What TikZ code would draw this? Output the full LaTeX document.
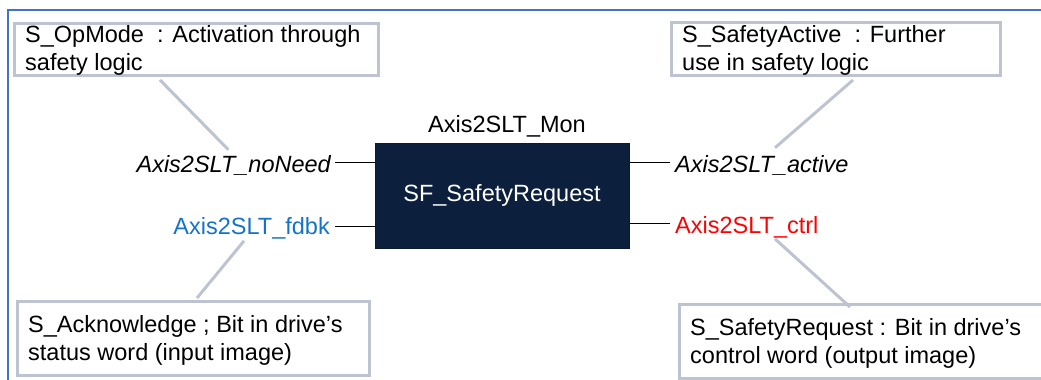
\documentclass[tikz,border=0pt]{standalone}
\usepackage{fontspec}
\setmainfont{Liberation Sans}
\usetikzlibrary{calc}
\definecolor{framblue}{RGB}{68,114,196}
\definecolor{boxgray}{RGB}{190,195,210}
\definecolor{navy}{RGB}{12,32,62}
\definecolor{sigblue}{RGB}{20,115,200}
\definecolor{sigred}{RGB}{255,0,0}
\tikzset{
  gbox/.style={draw=boxgray, line width=3pt, fill=white, anchor=north west, inner sep=0pt},
  btext/.style={anchor=north west, inner sep=0pt, align=left, font=\fontsize{23.5}{28.5}\selectfont},
  lbl/.style={inner sep=0pt, font=\fontsize{23.5}{28}\selectfont},
  sfbox/.style={fill=navy, draw=navy!80!black, line width=1pt, text=white, inner sep=0pt, font=\fontsize{23.5}{28}\selectfont},
  pin/.style={draw=black, line width=1.2pt},
  conn/.style={draw=boxgray, line width=3pt},
}
\begin{document}
\begin{tikzpicture}[x=1pt,y=-1pt]
\useasboundingbox (0,0) rectangle (1041,380);
\clip (0,0) rectangle (1041,380);
% outer frame (only top and left visible)
\draw[framblue, line width=2pt] (8,10) rectangle (1060,400);

% central block
\node[sfbox, minimum width=254pt, minimum height=105pt] (sf) at (502,195.5) {SF\_SafetyRequest};
\node[lbl, anchor=base] (title) at (507,132) {Axis2SLT\_Mon};

% signal labels
\node[lbl, anchor=base east, font=\fontsize{23.5}{28}\selectfont\itshape] (nn) at (331,172) {Axis2SLT\_noNeed};
\node[lbl, anchor=base east, text=sigblue] (fb) at (330,234) {Axis2SLT\_fdbk};
\node[lbl, anchor=base west, font=\fontsize{23.5}{28}\selectfont\itshape] (ac) at (675,172) {Axis2SLT\_active};
\node[lbl, anchor=base west, text=sigred] (ct) at (675,233) {Axis2SLT\_ctrl};

% pins
\coordinate (pl1) at ($(sf.north west)+(0,20)$);
\coordinate (pl2) at ($(sf.north west)+(0,84)$);
\coordinate (pr1) at ($(sf.north east)+(0,20)$);
\coordinate (pr2) at ($(sf.north east)+(0,81)$);
\draw[pin] (pl1) -- ($(pl1 -| nn.east)+(4,0)$);
\draw[pin] (pl2) -- ($(pl2 -| fb.east)+(5,0)$);
\draw[pin] (pr1) -- ($(pr1 -| ac.west)+(-5,0)$);
\draw[pin] (pr2) -- ($(pr2 -| ct.west)+(-5,0)$);

% comment boxes
\node[gbox, minimum width=364pt, minimum height=52pt] (b1) at (13,22) {};
\node[btext] (t1) at (25,25) {S\_OpMode~ : Activation through\\safety logic};
\node[gbox, minimum width=329pt, minimum height=53pt] (b2) at (670,21) {};
\node[btext] (t2) at (682,25) {S\_SafetyActive~ : Further\\use in safety logic};
\node[gbox, minimum width=352pt, minimum height=74pt] (b3) at (16,300) {};
\node[btext] (t3) at (28,315) {S\_Acknowledge ; Bit in drive’s\\status word (input image)};
\node[gbox, minimum width=370pt, minimum height=74pt] (b4) at (678,303) {};
\node[btext] (t4) at (690,318) {S\_SafetyRequest : Bit in drive’s\\control word (output image)};

% connectors from comments to signals
\draw[conn] ($(b1.south west)+(147,3)$) -- ($(nn.north west)+(92,-5)$);
\draw[conn] ($(b2.south west)+(183,3)$) -- ($(ac.north west)+(100,-7)$);
\draw[conn] ($(fb.south east)+(-86,2)$) -- ($(b3.north west)+(181,-2)$);
\draw[conn] ($(ct.south west)+(100,1)$) -- ($(b4.north west)+(172,4)$);
\end{tikzpicture}
\end{document}
